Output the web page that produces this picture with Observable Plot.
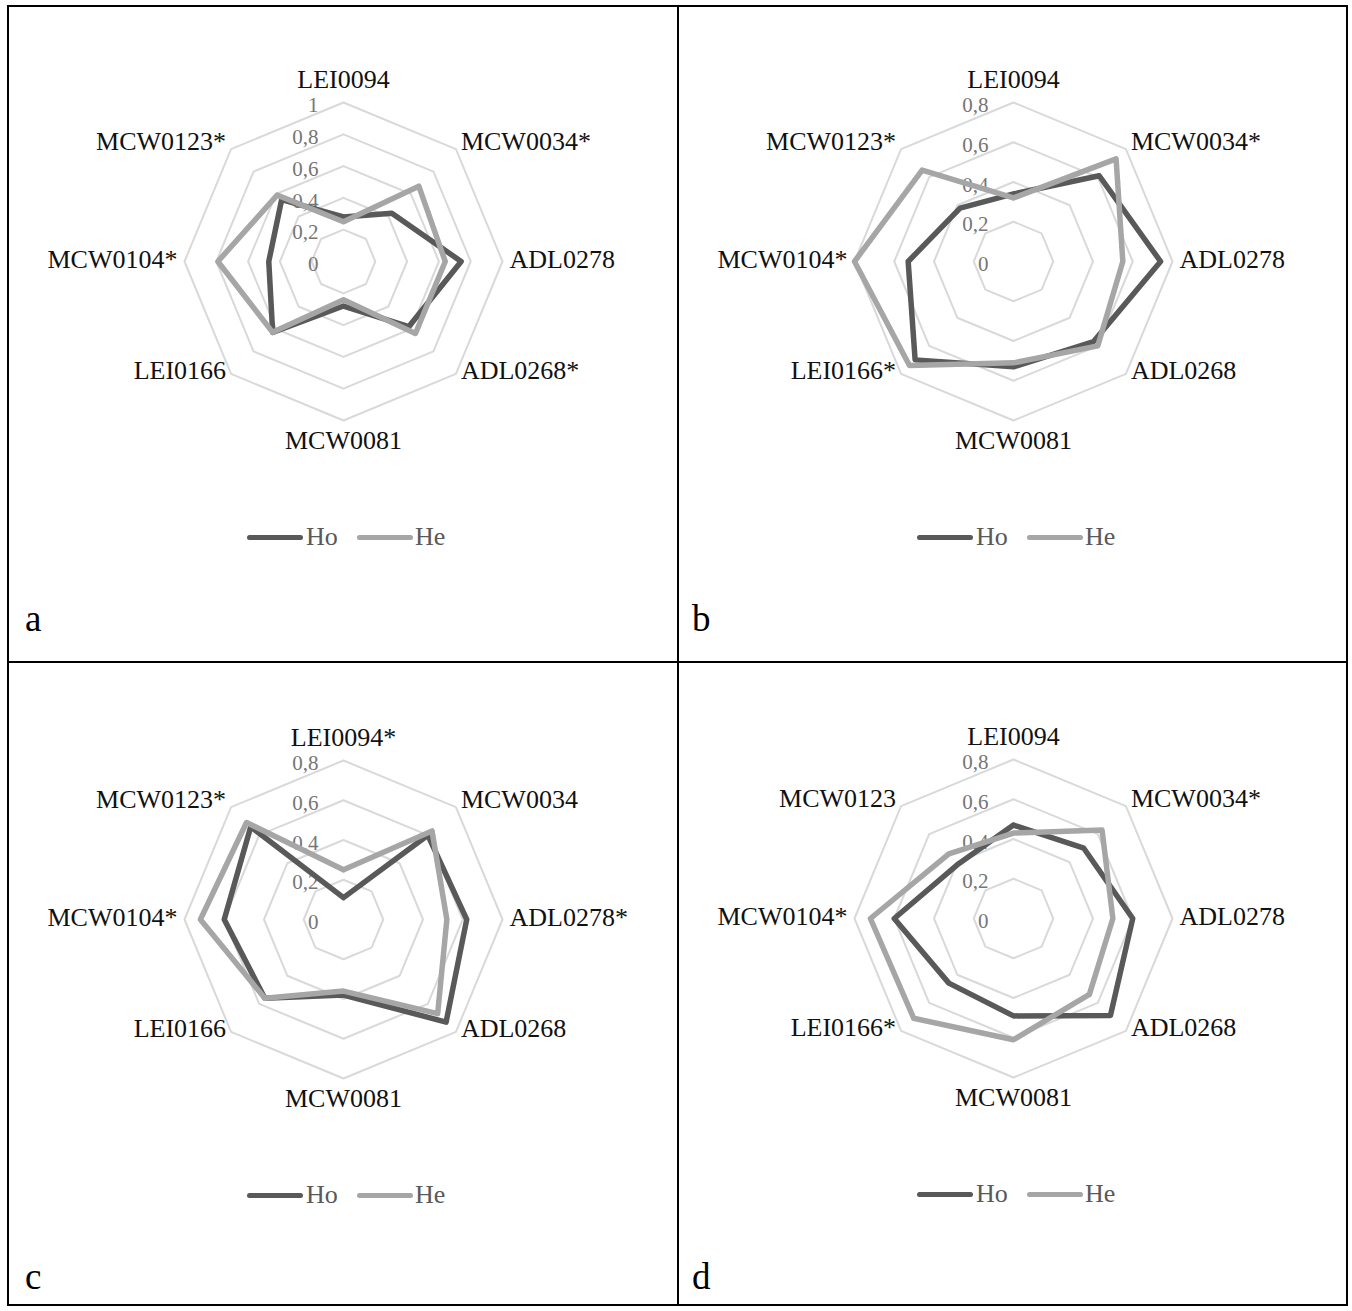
<!DOCTYPE html>
<html><head><meta charset="utf-8">
<script src="https://cdn.jsdelivr.net/npm/d3@7"></script>
<script src="https://cdn.jsdelivr.net/npm/@observablehq/plot@0.6"></script>
<style>
body{margin:0;background:#fff;font-family:"Liberation Serif","Times New Roman",serif;}
#page{position:relative;width:1352px;height:1311px;overflow:hidden;background:#fff;}
.ln{position:absolute;background:#000;}
.panel{position:absolute;}
.lg{position:absolute;font-size:26px;color:#595959;line-height:30px;white-space:nowrap;}
.sw{position:absolute;height:5px;width:56px;border-radius:3px;}
.letter{position:absolute;font-size:37px;line-height:36px;color:#000;}
</style></head><body><div id="page"></div>
<script>
// ---- data ----
const axisKeys = ["LEI0094","MCW0034","ADL0278","ADL0268","MCW0081","LEI0166","MCW0104","MCW0123"];
const labelsA = ["LEI0094","MCW0034*","ADL0278","ADL0268*","MCW0081","LEI0166","MCW0104*","MCW0123*"];
const labelsB = ["LEI0094","MCW0034*","ADL0278","ADL0268","MCW0081","LEI0166*","MCW0104*","MCW0123*"];
const labelsC = ["LEI0094*","MCW0034","ADL0278*","ADL0268","MCW0081","LEI0166","MCW0104*","MCW0123*"];
const labelsD = ["LEI0094","MCW0034*","ADL0278","ADL0268","MCW0081","LEI0166*","MCW0104*","MCW0123"];
const hoA = [0.28,0.43,0.74,0.58,0.28,0.63,0.47,0.55];
const heA = [0.25,0.67,0.64,0.64,0.24,0.63,0.79,0.59];
const hoB = [0.34,0.61,0.74,0.57,0.53,0.70,0.53,0.38];
const heB = [0.32,0.73,0.55,0.60,0.51,0.74,0.80,0.65];
const hoC = [0.11,0.60,0.62,0.73,0.38,0.56,0.60,0.66];
const heC = [0.25,0.63,0.52,0.67,0.36,0.56,0.72,0.69];
const hoD = [0.47,0.50,0.60,0.69,0.49,0.46,0.60,0.39];
const heD = [0.43,0.63,0.50,0.54,0.61,0.71,0.72,0.46];
const ticksA = [0,0.2,0.4,0.6,0.8,1];
const ticksBCD = [0,0.2,0.4,0.6,0.8];
const seriesNames = ["Ho","He"];
const seriesColors = ["#595959","#a6a6a6"];
const panelLetters = ["a","b","c","d"];

// ---- layout ----
const R = 159, W = 640, H = 420, CY = 210;
const page = document.getElementById("page");
function line(l,t,w,h){const d=document.createElement("div");d.className="ln";Object.assign(d.style,{left:l+"px",top:t+"px",width:w+"px",height:h+"px"});page.appendChild(d);}
line(7,5,1341,2); line(7,661,1341,2); line(7,1304,1341,2);
line(7,5,2,1301); line(677,5,2,1301); line(1346,5,2,1301);

const fmt = t => String(t).replace(".", ",");

function radar(labels, ho, he, max, ticks){
  const n = labels.length;
  const k = max / R;
  const ang = i => 2*Math.PI*i/n;
  const pt = (i, v) => ({x: v*Math.sin(ang(i)), y: v*Math.cos(ang(i))});
  const closed = vals => d3.range(n+1).map(i => pt(i%n, vals[i%n]));
  const rings = ticks.filter(t => t > 0).flatMap(t => closed(labels.map(() => t)).map(p => ({...p, ring: t})));
  const labR = 166*k;
  const lab = labels.map((text, i) => {
    const s = Math.sin(ang(i)), c = Math.cos(ang(i));
    const anchor = s > 0.1 ? "start" : s < -0.1 ? "end" : "middle";
    const up = c > 0.9 ? 16 : c < -0.9 ? -13 : c > 0.1 ? 2 : c < -0.1 ? 8 : 2;
    return {text, anchor, x: labR*s, y: labR*c + up*k};
  });
  const txt = a => Plot.text(lab.filter(d => d.anchor === a), {x:"x", y:"y", text:"text", textAnchor:a, fontSize:26, fill:"#111", fontFamily:"Liberation Serif"});
  return Plot.plot({
    width: W, height: H, margin: 0,
    x: {domain:[-max, max], range:[W/2 - R, W/2 + R], axis: null},
    y: {domain:[-max, max], range:[CY + R, CY - R], axis: null},
    style: {background:"transparent", fontFamily:"Liberation Serif"},
    marks: [
      Plot.line(rings, {x:"x", y:"y", z:"ring", stroke:"#d9d9d9", strokeWidth:2}),
      Plot.text(ticks, {x:0, y:d => d, text:fmt, textAnchor:"end", dx:-25, dy:3, fontSize:21, fill:"#767676", fontFamily:"Liberation Serif"}),
      Plot.line(closed(ho), {x:"x", y:"y", stroke:seriesColors[0], strokeWidth:5.5, strokeLinejoin:"round"}),
      Plot.line(closed(he), {x:"x", y:"y", stroke:seriesColors[1], strokeWidth:5.5, strokeLinejoin:"round"}),
      txt("start"), txt("middle"), txt("end")
    ]
  });
}

const panels = [
  {cx:343, cy:261, labels:labelsA, ho:hoA, he:heA, max:1, ticks:ticksA, lx:25, ly:601},
  {cx:1013, cy:261, labels:labelsB, ho:hoB, he:heB, max:0.8, ticks:ticksBCD, lx:692, ly:601},
  {cx:343, cy:919, labels:labelsC, ho:hoC, he:heC, max:0.8, ticks:ticksBCD, lx:25, ly:1259},
  {cx:1013, cy:918, labels:labelsD, ho:hoD, he:heD, max:0.8, ticks:ticksBCD, lx:692, ly:1259}
];

panels.forEach((p, idx) => {
  const wrap = document.createElement("div");
  wrap.className = "panel";
  wrap.style.left = (p.cx - W/2) + "px";
  wrap.style.top = (p.cy - CY) + "px";
  wrap.appendChild(radar(p.labels, p.ho, p.he, p.max, p.ticks));
  page.appendChild(wrap);
  // legend
  const ly = p.cy + 276;
  const offs = [[-96,-37],[14,72]];
  seriesNames.forEach((s, j) => {
    const sw = document.createElement("div");
    sw.className = "sw";
    sw.style.background = seriesColors[j];
    sw.style.left = (p.cx + offs[j][0]) + "px";
    sw.style.top = (ly - 2.5) + "px";
    page.appendChild(sw);
    const t = document.createElement("div");
    t.className = "lg";
    t.textContent = s;
    t.style.left = (p.cx + offs[j][1]) + "px";
    t.style.top = (ly - 15) + "px";
    page.appendChild(t);
  });
  const L = document.createElement("div");
  L.className = "letter";
  L.textContent = panelLetters[idx];
  L.style.left = p.lx + "px";
  L.style.top = p.ly + "px";
  page.appendChild(L);
});
</script></body></html>
